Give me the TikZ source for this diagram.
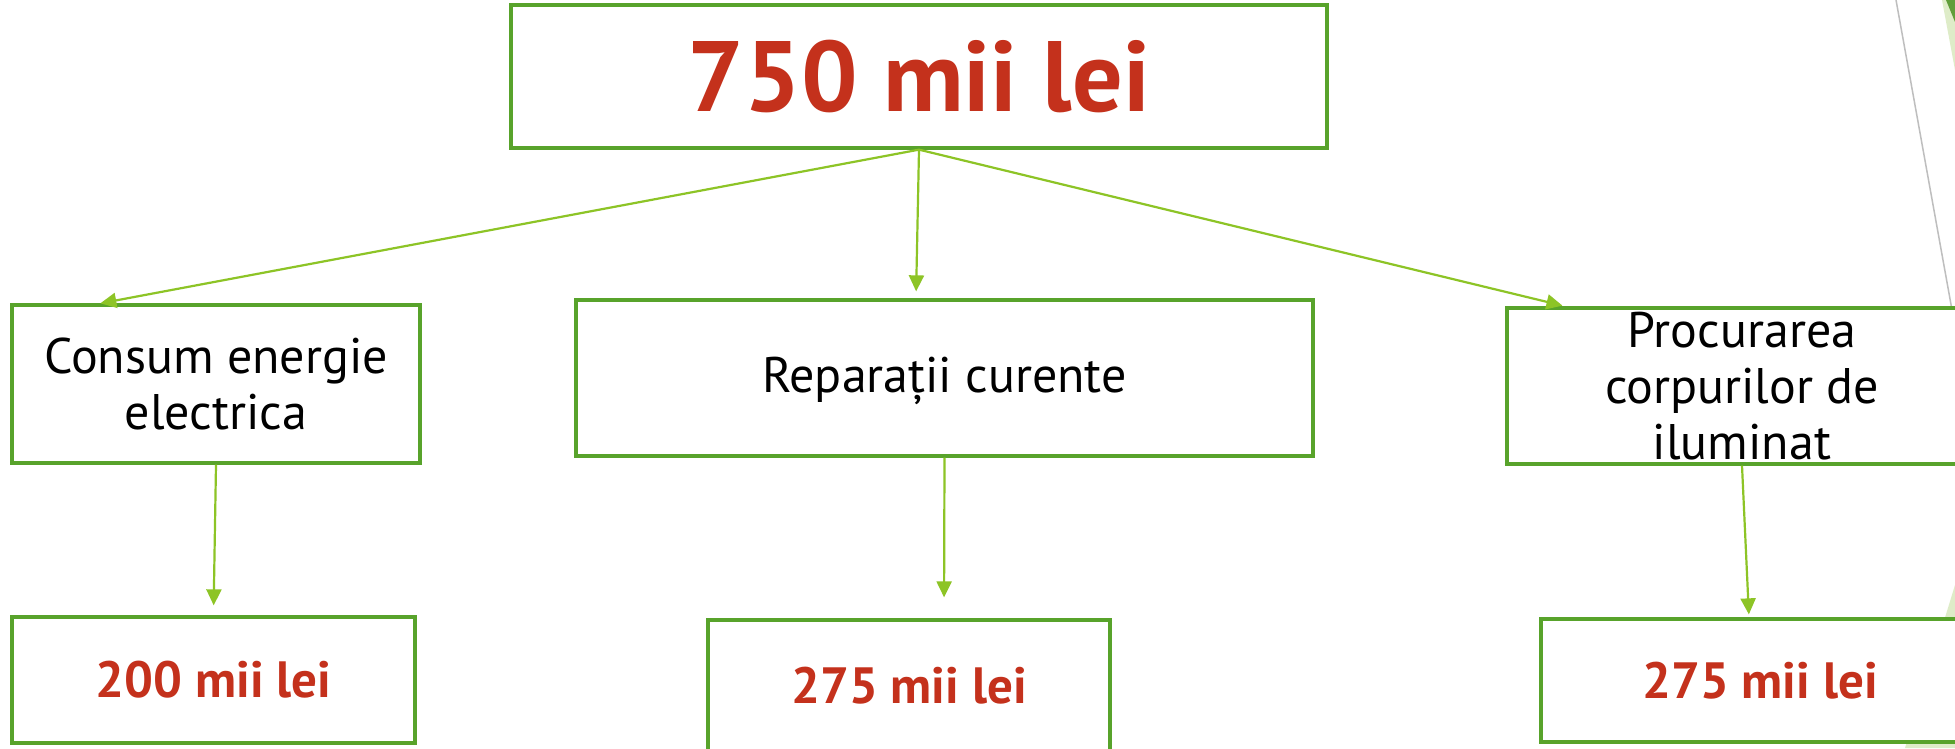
\documentclass[tikz,border=0pt]{standalone}
\usepackage{fontspec}
\setmainfont{PT Sans}
\usetikzlibrary{arrows.meta,calc}
\definecolor{boxgreen}{RGB}{88,163,43}
\definecolor{arrgreen}{RGB}{141,196,38}
\definecolor{valred}{RGB}{196,49,28}
\definecolor{palegreen}{RGB}{222,236,200}
\definecolor{deepgreen}{RGB}{96,158,58}
\definecolor{linegray}{RGB}{190,190,190}
\tikzset{
  box/.style={draw=boxgreen, line width=3.3pt, fill=white, inner sep=0pt, align=center, rectangle},
  labeltext/.style={font=\fontsize{50}{56}\selectfont, text=black},
  valtext/.style={font=\fontsize{51}{56}\selectfont\bfseries, text=valred},
  arr/.style={draw=arrgreen, line width=2.2pt, -{Triangle[width=15pt,length=16pt]}}
}
\begin{document}
\begin{tikzpicture}[x=1pt,y=-1pt]
\useasboundingbox (0,0) rectangle (1955,748);
\clip (0,0) rectangle (1955,748);
\fill[white] (0,0) rectangle (1955,748);
% slide decorations at the right edge
\fill[palegreen] (1942,0) -- (1955,0) -- (1955,70) -- cycle;
\fill[deepgreen] (1946,0) -- (1955,0) -- (1955,22) -- cycle;
\fill[palegreen] (1955,585) -- (1955,748) -- (1905,748) -- cycle;
\draw[linegray, line width=1.5pt] (1896,0) -- (1952,310);
% boxes
\node[box, minimum width=816pt, minimum height=143pt, font=\fontsize{100}{110}\selectfont\bfseries, text=valred] (top) at (919,76.5) {750 mii lei};
\node[box, labeltext, minimum width=408pt, minimum height=158pt] (A) at (216,384) {Consum energie\\electrica};
\node[box, labeltext, minimum width=737pt, minimum height=156pt] (B) at (944.5,378) {\raisebox{-14pt}[0pt][0pt]{Reparații curente}};
\node[box, labeltext, minimum width=470pt, minimum height=156pt] (C) at (1742,386) {Procurarea\\corpurilor de\\iluminat};
\node[box, valtext, minimum width=403pt, minimum height=126pt] (D) at (213.5,680) {200 mii lei};
\node[box, valtext, minimum width=402pt, minimum height=132pt] (E) at (909,686) {275 mii lei};
\node[box, valtext, minimum width=438pt, minimum height=123pt] (F) at (1760,680.5) {275 mii lei};
% connectors
\draw[arr] (top.south) -- ([xshift=90pt]A.north west);
\draw[arr, shorten >=7pt] (top.south) -- ([xshift=-28.5pt]B.north);
\draw[arr, shorten >=3pt] (top.south) -- ([xshift=60pt]C.north west);
\draw[arr, shorten >=10pt] (A.south) -- (D.north);
\draw[arr, shorten >=21pt] (B.south) -- ([xshift=35pt]E.north);
\draw[arr, shorten >=3pt] (C.south) -- ([xshift=-11pt]F.north);
\end{tikzpicture}
\end{document}
